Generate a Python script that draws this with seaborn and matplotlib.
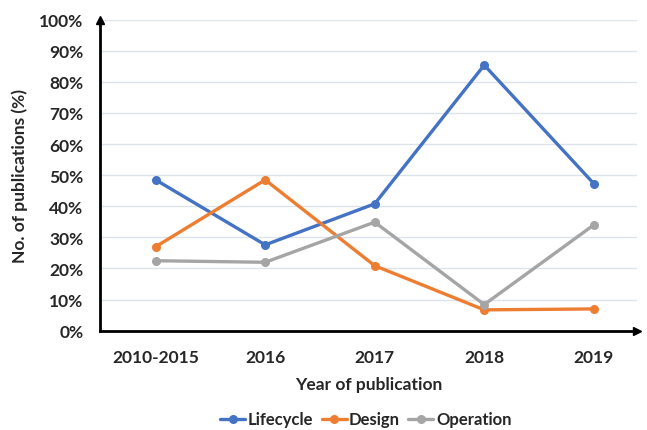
import matplotlib
matplotlib.use("Agg")
import matplotlib.pyplot as plt
import pandas as pd
import seaborn as sns
from matplotlib.ticker import PercentFormatter

# Data
years = ["2010-2015", "2016", "2017", "2018", "2019"]
lifecycle = [48.5, 27.6, 40.8, 85.4, 47.3]
design = [27.0, 48.5, 20.9, 6.7, 7.0]
operation = [22.5, 22.0, 34.9, 8.4, 34.0]

df = pd.DataFrame({"year": years * 3,
                   "value": lifecycle + design + operation,
                   "series": ["Lifecycle"] * 5 + ["Design"] * 5 + ["Operation"] * 5})
df["x"] = df["year"].map({y: i for i, y in enumerate(years)})

sns.set_style("white")
plt.rcParams["font.family"] = ["Lato", "DejaVu Sans"]

fig = plt.figure(figsize=(6.47, 4.31), dpi=100)
ax = fig.add_axes([0.1546, 0.2304, 0.83, 0.7216])

palette = {"Lifecycle": "#4472C4", "Design": "#ED7D31", "Operation": "#A5A5A5"}
sns.lineplot(data=df, x="x", y="value", hue="series", palette=palette,
             marker="o", markersize=6.5, markeredgewidth=0, linewidth=2.4,
             ax=ax, sort=False)

ax.set_xlim(-0.508, 4.395)
ax.set_ylim(0, 100)
ax.set_yticks(range(0, 101, 10))
ax.yaxis.set_major_formatter(PercentFormatter(decimals=0))
ax.set_xticks(range(len(years)))
ax.set_xticklabels(years)
ax.grid(axis="y", color="#dde3ea", linewidth=1)
ax.set_axisbelow(True)

for s in ["top", "right"]:
    ax.spines[s].set_visible(False)
for s in ["left", "bottom"]:
    ax.spines[s].set_color("black")
    ax.spines[s].set_linewidth(2)

ax.tick_params(axis="both", direction="out", length=4, width=1.5, color="black",
               labelsize=12.5)
ax.tick_params(axis="y", pad=8)
ax.tick_params(axis="x", pad=9)
for lab in ax.get_xticklabels() + ax.get_yticklabels():
    lab.set_fontweight("bold")

# axis arrows
ax.plot(1, 0, ">k", markersize=6, transform=ax.transAxes, clip_on=False)
ax.plot(0, 1, "^k", markersize=6, transform=ax.transAxes, clip_on=False)

ax.set_xlabel("Year of publication", fontsize=12.5, fontweight="bold", labelpad=8)
ax.set_ylabel("No. of publications (%)", fontsize=12.5, fontweight="bold", labelpad=8)

ax.legend(loc="center", bbox_to_anchor=(0.495, -0.285), ncol=3, frameon=False,
          handlelength=1.5, handletextpad=0.15, columnspacing=0.5,
          prop={"weight": "bold", "size": 12})

fig.savefig("out.png", dpi=100)
